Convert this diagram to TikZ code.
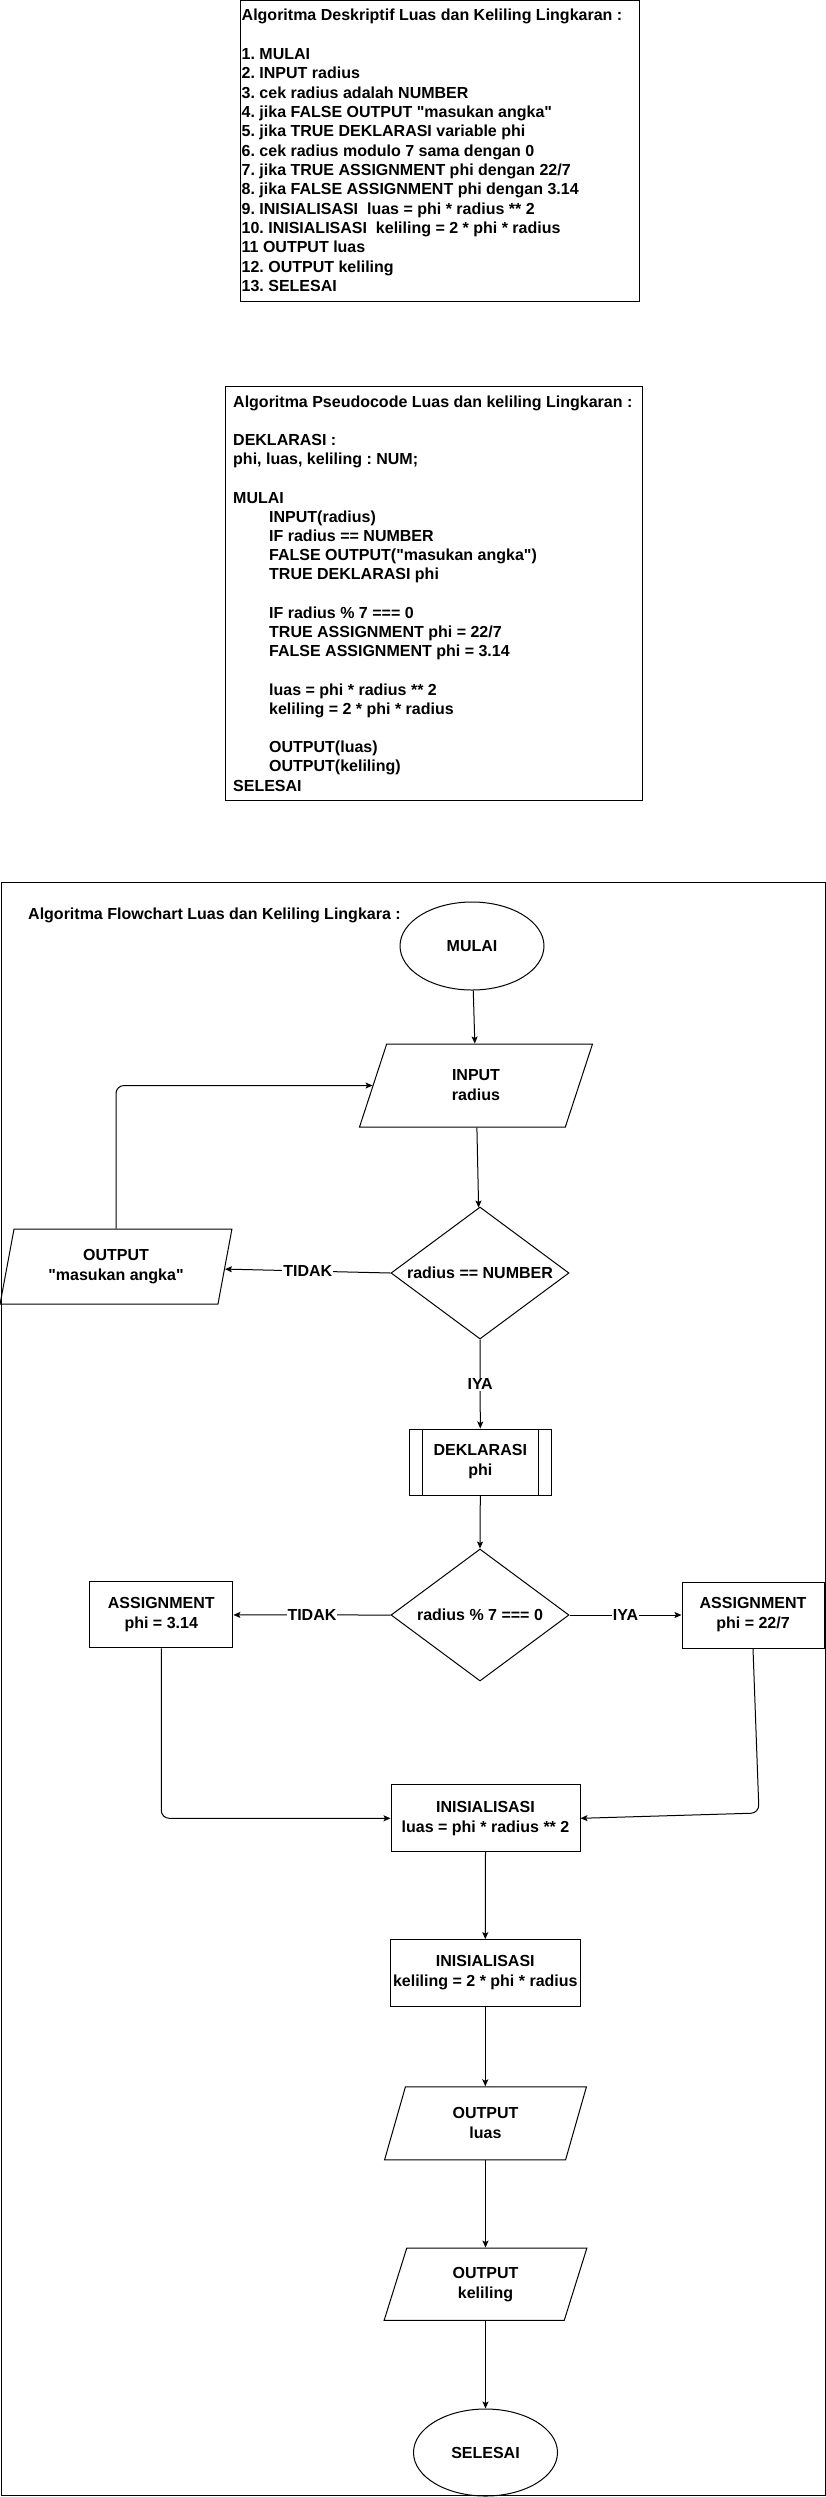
\documentclass[tikz,border=0pt]{standalone}
\usepackage{fontspec}
\setmainfont{Liberation Sans}[Ligatures=TeXOff]
\usetikzlibrary{shapes.geometric,arrows.meta}
\frenchspacing
\begin{document}
\frenchspacing
\begin{tikzpicture}[x=1pt,y=-1pt,
  every node/.style={font=\bfseries\fontsize{16}{20}\selectfont, inner sep=0pt},
  fc/.style={draw, line width=1pt, align=center},
  procbox/.style={fc, rectangle, minimum height=66pt},
  iobox/.style={fc, trapezium, trapezium stretches=true},
  decbox/.style={fc, diamond, shape aspect=1.35, minimum width=178pt, minimum height=132pt},
  termbox/.style={fc, ellipse, minimum width=144pt},
  arr/.style={line width=1pt, -{Stealth[length=7pt,width=6pt,inset=1.5pt]}},
  elab/.style={fill=white, inner sep=1pt},
  frame/.style={draw, line width=1pt, rectangle, inner sep=0pt}
]
\useasboundingbox (0,0) rectangle (826,2497);

% ---------- Descriptive algorithm ----------
\node[frame, anchor=north west, minimum width=399pt, minimum height=300pt] (descbox) at (239.5,0.5) {};
\node[anchor=base west] (desctext) at (241.5,21) {\parbox[t]{395pt}{\fontsize{16}{19.33}\selectfont\bfseries\frenchspacing
Algoritma Deskriptif Luas dan Keliling Lingkaran :\\
\mbox{}\\
1. MULAI\\
2. INPUT radius\\
3. cek radius adalah NUMBER\\
4. jika FALSE OUTPUT "masukan angka"\\
5. jika TRUE DEKLARASI variable phi\\
6. cek radius modulo 7 sama dengan 0\\
7. jika TRUE ASSIGNMENT phi dengan 22/7\\
8. jika FALSE ASSIGNMENT phi dengan 3.14\\
9. INISIALISASI~ luas = phi * radius ** 2\\
10. INISIALISASI~ keliling = 2 * phi * radius\\
11 OUTPUT luas\\
12. OUTPUT keliling\\
13. SELESAI}};

% ---------- Pseudocode ----------
\node[frame, anchor=north west, minimum width=417pt, minimum height=414pt] (pseubox) at (224.5,386) {};
\node[anchor=base west] (pseutext) at (233,407) {\parbox[t]{405pt}{\fontsize{16}{19.2}\selectfont\bfseries\frenchspacing
Algoritma Pseudocode Luas dan keliling Lingkaran :\\
\mbox{}\\
DEKLARASI :\\
phi, luas, keliling : NUM;\\
\mbox{}\\
MULAI\\
\hspace*{36pt}INPUT(radius)\\
\hspace*{36pt}IF radius == NUMBER\\
\hspace*{36pt}FALSE OUTPUT("masukan angka")\\
\hspace*{36pt}TRUE DEKLARASI phi\\
\mbox{}\\
\hspace*{36pt}IF radius \% 7 === 0\\
\hspace*{36pt}TRUE ASSIGNMENT phi = 22/7\\
\hspace*{36pt}FALSE ASSIGNMENT phi = 3.14\\
\mbox{}\\
\hspace*{36pt}luas = phi * radius ** 2\\
\hspace*{36pt}keliling = 2 * phi * radius\\
\mbox{}\\
\hspace*{36pt}OUTPUT(luas)\\
\hspace*{36pt}OUTPUT(keliling)\\
SELESAI}};

% ---------- Flowchart ----------
\node[frame, anchor=north west, minimum width=824.5pt, minimum height=1613pt] (fcframe) at (0.5,882) {};
\node[anchor=base west] (fctitle) at (28,919) {Algoritma Flowchart Luas dan Keliling Lingkara :};

\node[termbox, minimum height=88pt] (mulai) at (472,946) {MULAI};
\node[iobox, minimum width=234pt, minimum height=83pt, trapezium left angle=76.8, trapezium right angle=103.2] (input) at (476,1085.5) {INPUT\\radius};
\node[decbox] (d1) at (480,1273) {radius == NUMBER};
\node[iobox, minimum width=232pt, minimum height=75pt, trapezium left angle=75, trapezium right angle=105] (out1) at (116,1266.5) {OUTPUT\\"masukan angka"};
\node[procbox, minimum width=142.6pt] (dek) at (480.3,1462) {DEKLARASI\\phi};
\draw[line width=1pt] ([xshift=13.5pt]dek.north west) -- ([xshift=13.5pt]dek.south west);
\draw[line width=1pt] ([xshift=-13.5pt]dek.north east) -- ([xshift=-13.5pt]dek.south east);
\node[decbox] (d2) at (480,1615) {radius \% 7 === 0};
\node[procbox, minimum width=143.3pt] (asg1) at (161.25,1614.9) {ASSIGNMENT\\phi = 3.14};
\node[procbox, minimum width=142pt] (asg2) at (753,1615) {ASSIGNMENT\\phi = 22/7};
\node[procbox, minimum width=189pt, minimum height=66.7pt] (ini1) at (485.5,1818.3) {INISIALISASI\\luas = phi * radius ** 2};
\node[procbox, minimum width=189.4pt, minimum height=66.7pt] (ini2) at (485.3,1973) {INISIALISASI\\keliling = 2 * phi * radius};
\node[iobox, minimum width=203pt, minimum height=73pt, trapezium left angle=74.7, trapezium right angle=105.3] (outl) at (485.5,2123.3) {OUTPUT\\luas};
\node[iobox, minimum width=203pt, minimum height=72.3pt, trapezium left angle=74.7, trapezium right angle=105.3] (outk) at (485.5,2284.2) {OUTPUT\\keliling};
\node[termbox, minimum height=87pt] (selesai) at (485.5,2452.5) {SELESAI};

\coordinate (bend2) at (759,1813);

\draw[arr] (mulai) -- (input);
\draw[arr] (input) -- (d1);
\draw[arr] (d1.west) -- node[elab]{TIDAK} (out1);
\draw[arr, rounded corners=8pt] (out1.center |- out1.north) |- (input.left side);
\draw[arr] (d1.south) -- node[elab]{IYA} (dek.north);
\draw[arr] (dek.south) -- (d2.north);
\draw[arr] (d2.west) -- node[elab]{TIDAK} (asg1.east);
\draw[arr] (d2.east) -- node[elab]{IYA} (asg2.west);
\draw[arr, rounded corners=8pt] (asg1.south) |- (ini1.west);
\draw[arr, rounded corners=8pt] (asg2.south) -- (bend2) -- (ini1.east);
\draw[arr] (ini1.south) -- (ini2.north);
\draw[arr] (ini2.south) -- (ini2.south |- outl.north);
\draw[arr] (outl.center |- outl.south) -- (outl.center |- outk.north);
\draw[arr] (outk.center |- outk.south) -- (selesai.north);
\end{tikzpicture}
\end{document}
